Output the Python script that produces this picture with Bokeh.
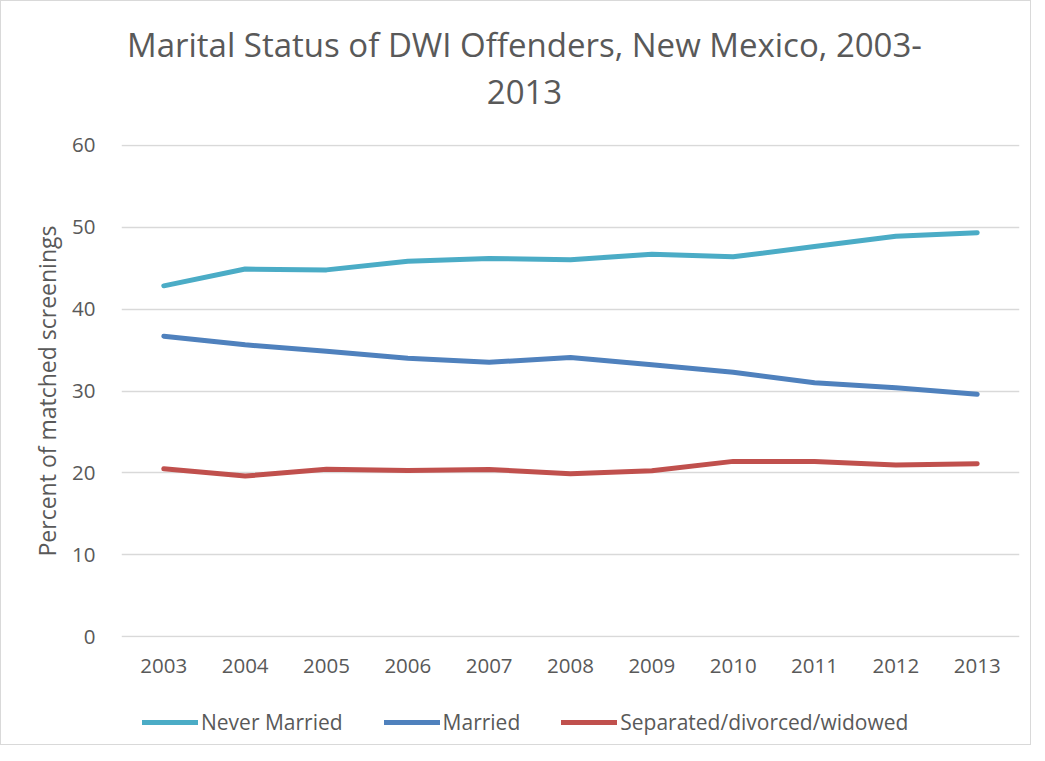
from bokeh.plotting import figure
from bokeh.layouts import column
from bokeh.models import Label, Legend, LegendItem, FixedTicker, ColumnDataSource
from bokeh.embed import file_html
from bokeh.resources import INLINE

years = [2003, 2004, 2005, 2006, 2007, 2008, 2009, 2010, 2011, 2012, 2013]
never_married = [42.85, 44.9, 44.8, 45.85, 46.2, 46.05, 46.7, 46.4, 47.65, 48.9, 49.35]
married = [36.7, 35.65, 34.85, 34.0, 33.5, 34.1, 33.2, 32.3, 31.0, 30.4, 29.6]
separated = [20.5, 19.6, 20.45, 20.3, 20.4, 19.9, 20.25, 21.4, 21.4, 20.95, 21.1]
series_names = ["Never Married", "Married", "Separated/divorced/widowed"]
colors = ["#4BACC6", "#4F81BD", "#C0504D"]
y_ticks = [0, 10, 20, 30, 40, 50, 60]
title_lines = ["Marital Status of DWI Offenders, New Mexico, 2003-", "2013"]

FONT = "Open Sans"
TXT = "#595959"
W = 1029
FL, FR = 120, 1018  # frame left / right (page px); strips share the main frame


def blank(fig):
    fig.outline_line_color = None
    fig.xaxis.visible = False
    fig.yaxis.visible = False
    fig.xgrid.visible = False
    fig.ygrid.visible = False
    fig.border_fill_color = "white"
    fig.background_fill_color = "white"


# ---- title strip ----
TH = 122
tfig = figure(width=W, height=TH, output_backend="svg", toolbar_location=None,
              x_range=(FL, FR), y_range=(0, TH), min_border=0)
blank(tfig)
for txt, yc in zip(title_lines, [44, 91]):
    tfig.add_layout(Label(x=523, y=TH + 1 - yc, text=txt, text_align="center", text_baseline="middle",
                          text_font=FONT, text_font_size="33px", text_color=TXT))

# ---- main plot ----
p = figure(width=W, height=567, output_backend="svg", toolbar_location=None,
           x_range=(2002.48, 2013.52), y_range=(-0.12, 60.12),
           min_border_left=FL, min_border_right=W - FR, min_border_top=21, min_border_bottom=53)
p.outline_line_color = None
p.background_fill_color = "white"
p.border_fill_color = "white"

src = ColumnDataSource(dict(x=years, nm=never_married, m=married, s=separated))
for col, c in zip(["nm", "m", "s"], colors):
    p.line("x", col, source=src, line_color=c, line_width=5, line_cap="round", line_join="round")

p.xaxis.ticker = FixedTicker(ticks=years)
p.yaxis.ticker = FixedTicker(ticks=y_ticks)
for ax in (p.xaxis[0], p.yaxis[0]):
    ax.axis_line_color = None
    ax.major_tick_line_color = None
    ax.minor_tick_line_color = None
    ax.major_label_text_font = FONT
    ax.major_label_text_font_size = "20.5px"
    ax.major_label_text_color = TXT
p.xaxis.major_label_standoff = 15
p.yaxis.major_label_standoff = 20
p.yaxis.axis_label = "Percent of matched screenings"
p.yaxis.axis_label_text_font = FONT
p.yaxis.axis_label_text_font_size = "23px"
p.yaxis.axis_label_text_font_style = "normal"
p.yaxis.axis_label_text_color = TXT
p.yaxis.axis_label_standoff = 6

p.xgrid.grid_line_color = None
p.ygrid.grid_line_color = "#D9D9D9"
p.ygrid.grid_line_width = 1.5

# ---- legend strip ----
LH = 54
lfig = figure(width=W, height=LH, output_backend="svg", toolbar_location=None,
              x_range=(0, 1), y_range=(0, 1), min_border=0)
blank(lfig)
lrs = [lfig.line(x=[0, 1], y=[-5, -5], line_color=c, line_width=5, line_cap="round") for c in colors]
legend = Legend(items=[LegendItem(label=n, renderers=[r]) for n, r in zip(series_names, lrs)],
                orientation="horizontal", location=(21, 8),
                glyph_width=56, glyph_height=28, label_height=28, label_standoff=3, spacing=41,
                padding=0, margin=0, border_line_color=None, background_fill_alpha=0,
                label_text_font=FONT, label_text_font_size="21px", label_text_color=TXT)
lfig.add_layout(legend)

layout = column(tfig, p, lfig, spacing=0)
layout.styles = {"border": "1px solid #d9d9d9"}

open("out.html", "w").write(file_html(layout, INLINE))
